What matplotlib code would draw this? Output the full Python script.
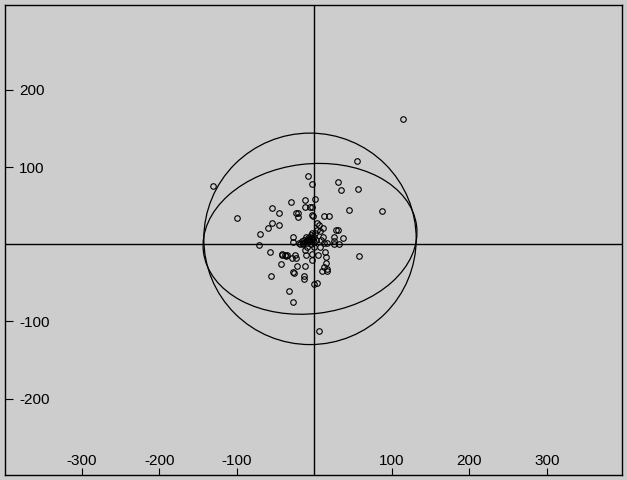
import numpy as np
import matplotlib
matplotlib.use("Agg")
import matplotlib.pyplot as plt
from matplotlib.patches import Circle, Ellipse

plt.rcParams['font.family'] = ['Liberation Sans', 'DejaVu Sans']

# scatter data (x, y)
pts_x = [-131, -100, -8, -3, 55, 31, 34, 57, 45, 88, 114,
         -30, -12, 1, -12, -5, -54, -46, -24, -21, -21, -2, 13, 19,
         -54, -46, -60, -70, -71, -57, -42, -36, -43, -29, -24, -25,
         -22, -12, -11, -3, -3, -26, -27, -56, -13, -13, 4, 0, -33, -27,
         6, 58, 28, 30, 37, 25, 25, 32, 25, 11, 6, 3, 4, 8,
         14, 15, 15, 13, 16, 17, 10, 5, -27, -28, -3, -3,
         12, 17, -42, -38, -35,
         -20, -16, -14, -12, -10, -8, -6, -4, -3, -5, -9, -7, -2, 0, 2,
         -1, -11, -13, -18, -15, -4, -10, -12, -1, 7, 9, 11, -3, 1]
pts_y = [76, 34, 88, 78, 108, 81, 70, 71, 44, 43, 162,
         55, 57, 58, 48, 48, 47, 40, 40, 40, 35, 36, 36, 36,
         27, 25, 21, 13, -1, -10, -14, -15, -25, -18, -18, -14,
         -28, -28, -14, -12, -20, -37, -36, -41, -41, -45, -50, -52, -61, -75,
         -112, -15, 18, 18, 8, 9, 4, 0, 0, 21, 25, 27, 19, 17,
         -10, -16, -24, -29, -32, -35, -35, -14, 9, 3, 38, 48,
         1, 1, -13, -14, -14,
         2, 4, 0, 3, 6, 8, 10, 12, 8, 4, 2, 5, 5, 3, 6,
         10, 9, 6, 0, 2, 0, -4, -7, -4, -3, 5, 9, 15, 14]

# fitted circle and ellipse
center = (-5.5, 7.0)
circle_radius = 137
ellipse_width = 277
ellipse_height = 194
ellipse_angle = 7

x_ticks = [-300, -200, -100, 100, 200, 300]
y_ticks = [-200, -100, 100, 200]

bg = '#cdcdcd'
fig = plt.figure(figsize=(6.27, 4.80), dpi=100, facecolor=bg)
ax = fig.add_axes([5/627, 5/480, 617/627, 470/480], facecolor=bg)
ax.set_xlim(-399, 397)
ax.set_ylim(-299, 310)

ax.axhline(0, color='black', lw=1.0)
ax.axvline(0, color='black', lw=1.0)

ax.add_patch(Circle(center, circle_radius, fill=False, ec='black', lw=0.9))
ax.add_patch(Ellipse(center, ellipse_width, ellipse_height, angle=ellipse_angle,
                     fill=False, ec='black', lw=0.9))

ax.plot(pts_x, pts_y, linestyle='none', marker='o', markersize=4.0,
        markerfacecolor='none', markeredgecolor='black', markeredgewidth=0.8)

ax.set_xticks(x_ticks)
ax.set_yticks(y_ticks)
ax.set_xticklabels([str(v) for v in x_ticks])
ax.set_yticklabels([str(v) for v in y_ticks])
ax.tick_params(axis='x', direction='in', length=5, width=0.8, pad=-15, labelsize=11)
ax.tick_params(axis='y', direction='in', length=6, width=0.8, pad=-10, labelsize=11)
for lab in ax.get_yticklabels():
    lab.set_horizontalalignment('left')
for s in ax.spines.values():
    s.set_linewidth(1.0)

fig.savefig('out.png', dpi=100, facecolor=bg)
